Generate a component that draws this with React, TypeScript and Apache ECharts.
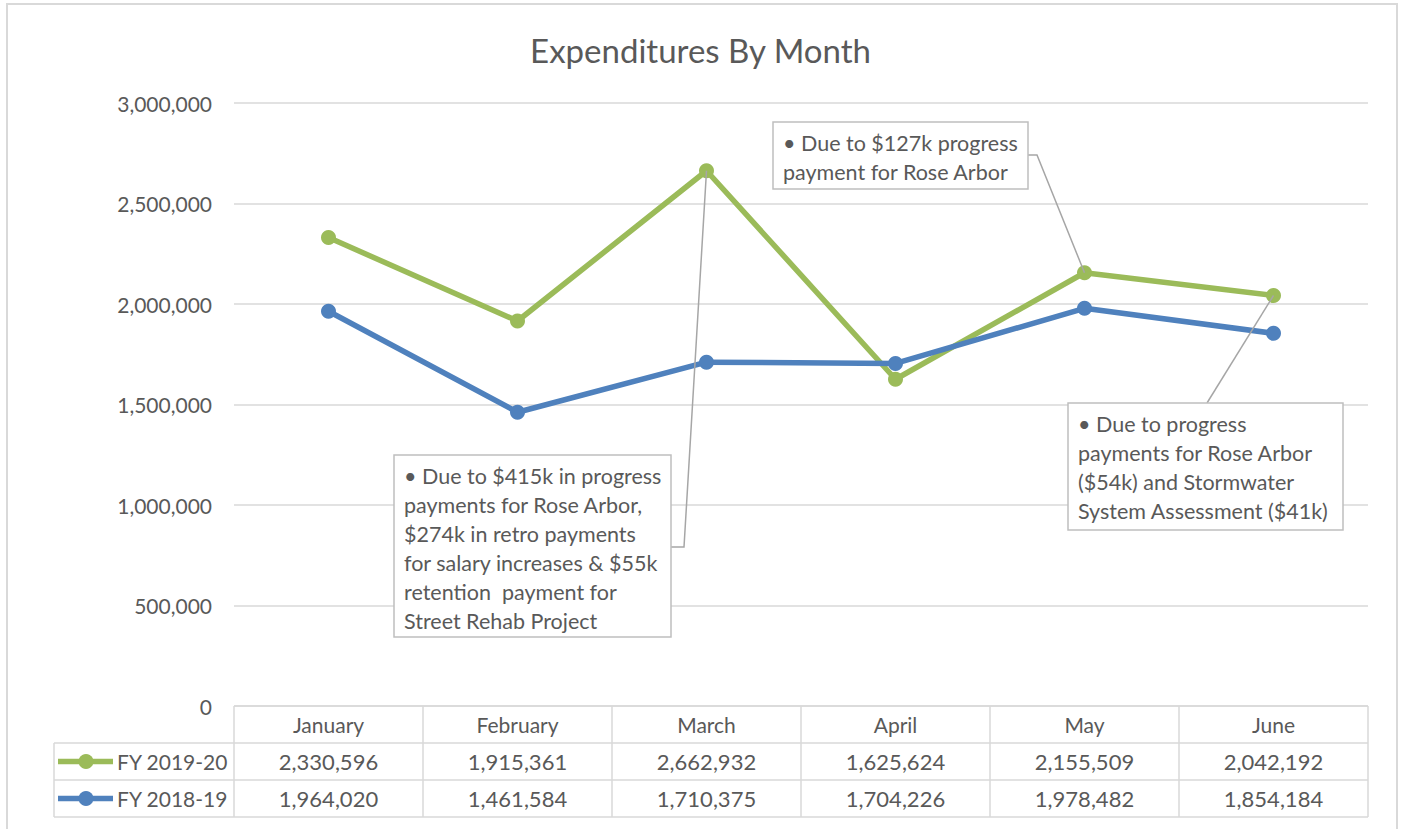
import React, { useEffect, useRef } from "react";
import * as echarts from "echarts";

const months = ["January", "February", "March", "April", "May", "June"];
const seriesNames = ["FY 2019-20", "FY 2018-19"];
const fy2019_20 = [2330596, 1915361, 2662932, 1625624, 2155509, 2042192];
const fy2018_19 = [1964020, 1461584, 1710375, 1704226, 1978482, 1854184];
const seriesColors = ["#9BBB59", "#4F81BD"];
const titleText = "Expenditures By Month";

const note1Lines = [
  "• Due to $415k in progress",
  "payments for Rose Arbor,",
  "$274k in retro payments",
  "for salary increases & $55k",
  "retention  payment for",
  "Street Rehab Project",
];
const note2Lines = ["• Due to $127k progress", "payment for Rose Arbor"];
const note3Lines = [
  "• Due to progress",
  "payments for Rose Arbor",
  "($54k) and Stormwater",
  "System Assessment ($41k)",
];

const FONT = "Lato, 'Open Sans', sans-serif";
const TXT = "#595959";
const GRID_C = "#D9D9D9";
const LEADER = "#A6A6A6";

export default function App() {
  const ref = useRef<HTMLDivElement>(null);
  useEffect(() => {
    document.body.style.margin = "0";
    const chart = echarts.init(ref.current!, null, { renderer: "svg" });
    const fmt = (v: number) => v.toLocaleString("en-US");
    chart.setOption({
      animation: false,
      backgroundColor: "#fff",
      title: {
        text: titleText,
        left: "center",
        top: 28,
        textStyle: { fontFamily: FONT, fontSize: 33, fontWeight: "normal", color: TXT },
      },
      grid: { left: 234, right: 33, top: 103, bottom: 123, containLabel: false },
      xAxis: {
        type: "category",
        data: months,
        boundaryGap: true,
        axisLine: { show: false },
        axisTick: { show: false },
        axisLabel: { show: false },
      },
      yAxis: {
        type: "value",
        min: 0,
        max: 3000000,
        interval: 500000,
        axisLine: { show: false },
        axisTick: { show: false },
        axisLabel: { formatter: fmt, color: TXT, fontFamily: FONT, fontSize: 21, margin: 22 },
        splitLine: { lineStyle: { color: GRID_C, width: 1.5 } },
      },
      series: [
        {
          name: seriesNames[0],
          type: "line",
          data: fy2019_20,
          symbol: "circle",
          symbolSize: 15,
          color: seriesColors[0],
          lineStyle: { width: 5.5, color: seriesColors[0] },
          itemStyle: { color: seriesColors[0] },
        },
        {
          name: seriesNames[1],
          type: "line",
          data: fy2018_19,
          symbol: "circle",
          symbolSize: 15,
          color: seriesColors[1],
          lineStyle: { width: 5.5, color: seriesColors[1] },
          itemStyle: { color: seriesColors[1] },
        },
      ],
    });

    const px = (i: number, v: number) => chart.convertToPixel({ gridIndex: 0 }, [i, v]) as number[];
    const p0 = px(0, 0);
    const p1 = px(1, 0);
    const band = p1[0] - p0[0];
    const tLeft = p0[0] - band / 2;
    const tRight = tLeft + band * months.length;
    const tTop = p0[1];
    const rowH = 37;
    const legLeft = 54;
    const els: any[] = [];
    const ln = (x1: number, y1: number, x2: number, y2: number, c = GRID_C, w = 1.5) =>
      els.push({ type: "line", silent: true, z: 10, shape: { x1, y1, x2, y2 }, style: { stroke: c, lineWidth: w } });
    const txt = (x: number, y: number, text: string, size: number, align = "center", extra: any = {}) =>
      els.push({
        type: "text",
        silent: true,
        z: 12,
        x,
        y,
        style: {
          text,
          fill: TXT,
          font: `${size}px ${FONT}`,
          align,
          textAlign: align,
          verticalAlign: "middle",
          textVerticalAlign: "middle",
          ...extra,
        },
      });

    // outer border
    els.push({
      type: "rect",
      silent: true,
      z: 0,
      shape: { x: 7, y: 4, width: 1390, height: 840 },
      style: { fill: "none", stroke: GRID_C, lineWidth: 2 },
    });

    // data table
    ln(tLeft, tTop, tRight, tTop);
    for (let r = 1; r <= 3; r++) ln(legLeft, tTop + rowH * r, tRight, tTop + rowH * r);
    for (let k = 0; k <= months.length; k++) ln(tLeft + band * k, tTop, tLeft + band * k, tTop + rowH * 3);
    ln(legLeft, tTop + rowH, legLeft, tTop + rowH * 3);
    months.forEach((m, i) => txt(tLeft + band * (i + 0.5), tTop + rowH / 2, m, 21));
    [fy2019_20, fy2018_19].forEach((arr, r) => {
      const cy = tTop + rowH * (r + 1.5);
      arr.forEach((v, i) => txt(tLeft + band * (i + 0.5), cy, fmt(v), 22));
      ln(58, cy, 113, cy, seriesColors[r], 5.5);
      els.push({
        type: "circle",
        silent: true,
        z: 12,
        shape: { cx: 86, cy, r: 7.5 },
        style: { fill: seriesColors[r] },
      });
      txt(117, cy, seriesNames[r], 21, "left");
    });

    // annotations
    const box = (x: number, y: number, w: number, h: number, lines: string[]) => {
      els.push({
        type: "rect",
        silent: true,
        z: 20,
        shape: { x, y, width: w, height: h },
        style: { fill: "#fff", stroke: "#BFBFBF", lineWidth: 1.5 },
      });
      els.push({
        type: "text",
        silent: true,
        z: 21,
        x: x + 10,
        y: y + 6,
        style: {
          text: lines.join("\n"),
          fill: TXT,
          font: `21.5px ${FONT}`,
          lineHeight: 29,
          align: "left",
          textAlign: "left",
          verticalAlign: "top",
          textVerticalAlign: "top",
        },
      });
    };
    const pMar = px(2, fy2019_20[2]);
    const pMay = px(4, fy2019_20[4]);
    const pJun = px(5, fy2019_20[5]);
    els.push({
      type: "polyline",
      silent: true,
      z: 19,
      shape: { points: [[671, 547], [684, 547], [pMar[0], pMar[1]]] },
      style: { stroke: LEADER, lineWidth: 1.5, fill: "none" },
    });
    els.push({
      type: "polyline",
      silent: true,
      z: 19,
      shape: { points: [[1028, 155], [1037, 155], [pMay[0], pMay[1]]] },
      style: { stroke: LEADER, lineWidth: 1.5, fill: "none" },
    });
    els.push({
      type: "line",
      silent: true,
      z: 19,
      shape: { x1: 1207, y1: 403, x2: pJun[0], y2: pJun[1] },
      style: { stroke: LEADER, lineWidth: 1.5 },
    });
    box(394, 455, 277, 182, note1Lines);
    box(773, 122, 255, 67, note2Lines);
    box(1068, 403, 275, 127, note3Lines);

    chart.setOption({ graphic: { elements: els } });
    return () => chart.dispose();
  }, []);
  return <div ref={ref} style={{ width: 1401, height: 829 }} />;
}
